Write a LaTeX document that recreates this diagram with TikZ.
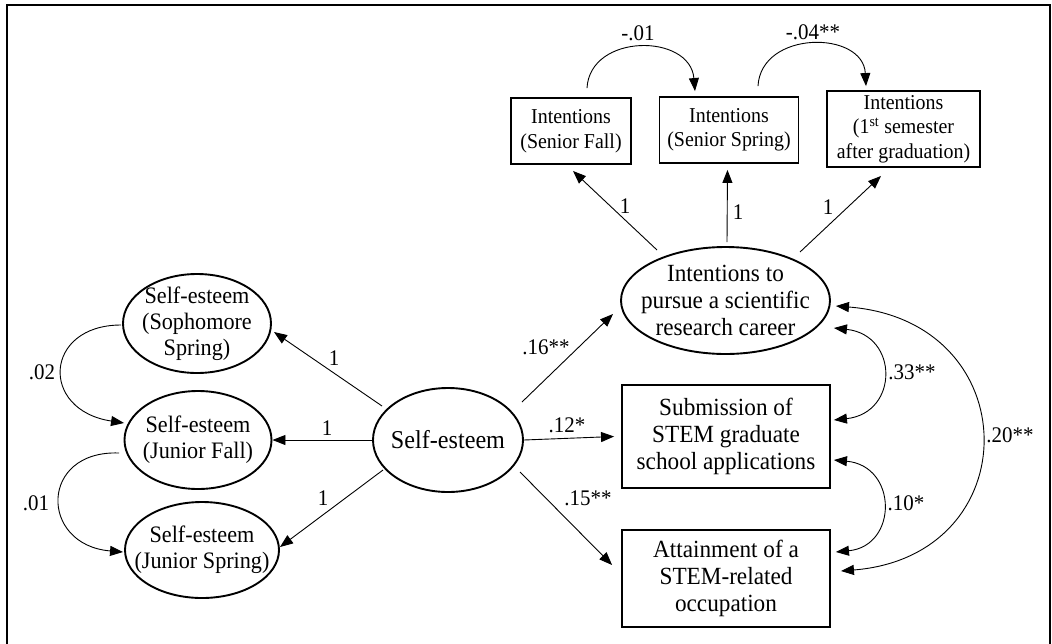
\documentclass[tikz,border=0pt]{standalone}
\usepackage{fontspec}
\setmainfont{Liberation Serif}[FakeStretch=0.94]
\usetikzlibrary{arrows.meta,shapes.geometric}
\newcommand\fTop{\fontsize{21.2}{24.5}\selectfont}
\newcommand\fRight{\fontsize{24.7}{26.7}\selectfont}
\newcommand\fCenter{\fontsize{25.7}{27}\selectfont}
\newcommand\fLeft{\fontsize{23.6}{26}\selectfont}
\tikzset{
  lat/.style={ellipse, draw, line width=1.9pt, inner xsep=-15pt, inner ysep=-12pt, align=center},
  obs/.style={rectangle, draw, line width=1.9pt, inner sep=0pt, align=center},
  pathar/.style={line width=0.9pt, -{Triangle[length=13pt,width=10pt]}},
  covar/.style={line width=0.9pt, {Triangle[length=13pt,width=10pt]}-{Triangle[length=13pt,width=10pt]}},
  lab/.style={inner sep=0pt, font=\fontsize{22.3}{24}\selectfont},
}
\begin{document}
\begin{tikzpicture}[x=1pt,y=-1pt]
\useasboundingbox (0,0) rectangle (1052,643);
\clip (0,0) rectangle (1052,643);
\draw[line width=2.5pt] (7,660) -- (7,5) -- (1050,5) -- (1050,660);

% top indicators
\node[obs, minimum width=120pt, minimum height=66pt, font=\fTop] (sf) at (571,131) {Intentions\\(Senior Fall)};
\node[obs, minimum width=139pt, minimum height=66pt, font=\fTop] (ss) at (729,130) {Intentions\\(Senior Spring)};
\node[obs, minimum width=153pt, minimum height=76pt, font=\fTop] (th) at (903.5,129) {Intentions\\(1\textsuperscript{st} semester\\after graduation)};

% right outcomes
\node[lat, minimum width=209pt, minimum height=107pt, font=\fRight] (int) at (725.5,300.5) {Intentions to\\pursue a scientific\\research career};
\node[obs, minimum width=208pt, minimum height=103pt, font=\fRight] (sub) at (726,436.5) {Submission of\\STEM graduate\\school applications};
\node[obs, minimum width=208pt, minimum height=97pt, font=\fRight] (att) at (726,578.5) {Attainment of a\\STEM-related\\occupation};

% self-esteem
\node[lat, minimum width=150pt, minimum height=104pt, font=\fCenter] (se) at (448,440) {Self-esteem};
\node[lat, minimum width=148pt, minimum height=99pt, font=\fLeft] (soph) at (197,323.5) {Self-esteem\\(Sophomore\\Spring)};
\node[lat, minimum width=147pt, minimum height=98pt, font=\fLeft] (jf) at (198,440) {Self-esteem\\(Junior Fall)};
\node[lat, minimum width=154pt, minimum height=96pt, font=\fLeft] (js) at (202,550) {Self-esteem\\(Junior Spring)};

% paths from self-esteem
\draw[pathar] ([shift={(-66pt,34pt)}]se.center) -- ([shift={(77pt,-8.5pt)}]soph.center);
\draw[pathar] (se.west) -- (jf.east);
\draw[pathar] ([shift={(-65pt,-30pt)}]se.center) -- ([shift={(78pt,3pt)}]js.center);
\draw[pathar] ([shift={(74pt,38pt)}]se.center) -- ([shift={(-112.5pt,-13.5pt)}]int.center);
\draw[pathar] (se.east) -- ([xshift=-7pt]sub.west);
\draw[pathar] ([shift={(72pt,-32pt)}]se.center) -- ([shift={(-9pt,13.5pt)}]att.west);

% loadings of intentions
\draw[pathar] ([shift={(-68.5pt,50.5pt)}]int.center) -- ([shift={(2pt,-6pt)}]sf.south);
\draw[pathar] ([shift={(1.5pt,58.5pt)}]int.center) -- ([shift={(-1.5pt,-6pt)}]ss.south);
\draw[pathar] ([shift={(74.5pt,48.5pt)}]int.center) -- ([shift={(-22.5pt,-8pt)}]th.south);

% autoregressive arcs top
\draw[pathar] ([shift={(16pt,9pt)}]sf.north) .. controls +(3,-55) and +(-5,-58) .. ([shift={(-34pt,5pt)}]ss.north);
\draw[pathar] ([shift={(29pt,10pt)}]ss.north) .. controls +(3,-56) and +(-3,-56) .. ([shift={(-37.5pt,4pt)}]th.north);

% autoregressive arcs left
\draw[pathar] ([shift={(-1pt,-1.5pt)}]soph.west) .. controls +(-77,0) and +(-85,-13) .. ([shift={(0.5pt,17pt)}]jf.west);
\draw[pathar] ([shift={(-4.5pt,-13pt)}]jf.west) .. controls +(-80,-3) and +(-84,-7) .. ([shift={(-1pt,-2pt)}]js.west);

% covariances right
\draw[covar] ([shift={(3pt,-27.5pt)}]int.east) .. controls +(65,7) and +(65,-7) .. ([shift={(3pt,16.5pt)}]sub.east);
\draw[covar] ([shift={(3pt,-23.5pt)}]sub.east) .. controls +(64,6) and +(62,-6) .. ([shift={(5pt,26.5pt)}]att.east);
\draw[covar] ([shift={(5pt,-5.5pt)}]int.east) .. controls +(192,15) and +(188,-15) .. ([shift={(10pt,7.5pt)}]att.east);

% labels
\node[lab] (l02) at (42,372) {.02};
\node[lab] (l01) at (36,503) {.01};
\node[lab] (lsoph) at (334,358) {1};
\node[lab] (ljf) at (327,428) {1};
\node[lab] (ljs) at (323,498) {1};
\node[lab] (l16) at (546,347) {.16**};
\node[lab] (l12) at (567,425) {.12*};
\node[lab] (l15) at (588,498) {.15**};
\node[lab] (lsf) at (625,206) {1};
\node[lab] (lss) at (738,212) {1};
\node[lab] (lth) at (828,207) {1};
\node[lab] (lm01) at (638,33) {-.01};
\node[lab] (lm04) at (813,32) {-.04**};
\node[lab] (l33) at (912,372) {.33**};
\node[lab] (l10) at (906,503) {.10*};
\node[lab] (l20) at (1010,435) {.20**};
\end{tikzpicture}
\end{document}
